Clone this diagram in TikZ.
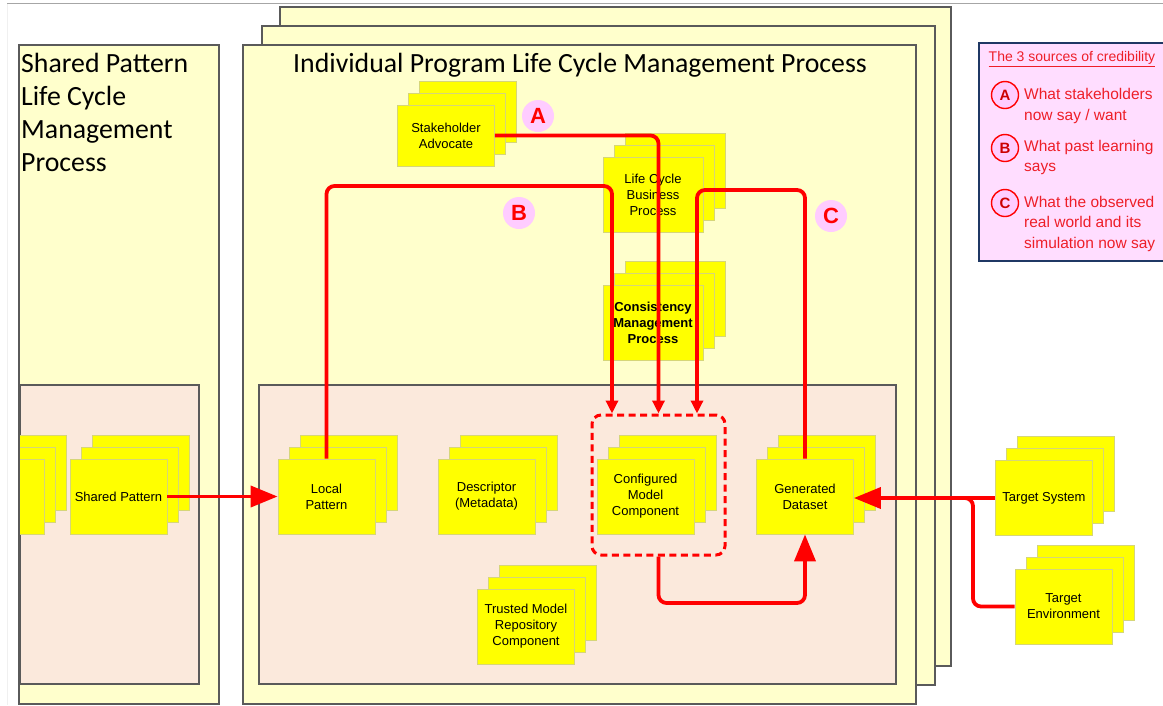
\documentclass[tikz,border=0pt]{standalone}
\usepackage{fontspec}
\setmainfont{Liberation Sans}
\newfontfamily\titlefont{Carlito}
\usetikzlibrary{
  arrows.meta,
  positioning,
  shadows
}
\definecolor{paneyellow}{RGB}{255,255,204}
\definecolor{panepink}{RGB}{251,233,220}
\definecolor{paneedge}{RGB}{90,90,90}
\definecolor{partyellow}{RGB}{255,255,0}
\definecolor{partedge}{RGB}{214,214,120}
\definecolor{flowred}{RGB}{255,0,0}
\definecolor{tagpink}{RGB}{255,204,255}
\definecolor{keypink}{RGB}{255,221,255}
\definecolor{keyedge}{RGB}{31,56,100}
\definecolor{keyred}{RGB}{238,30,40}

\begin{document}
\begin{tikzpicture}[
  x=1pt, y=-1pt,
  panebox/.style={draw=paneedge, line width=1.4pt, fill=paneyellow},
  innerpane/.style={draw=paneedge, line width=1.3pt, fill=panepink},
  partbox/.style={draw=partedge, line width=0.8pt, fill=partyellow,
    minimum width=97pt, minimum height=75pt, inner sep=2pt, align=center,
    font=\fontsize{13}{16}\selectfont,
    copy shadow={shadow xshift=22pt, shadow yshift=24pt, draw=partedge, fill=partyellow, line width=0.8pt},
    copy shadow={shadow xshift=11pt, shadow yshift=12pt, draw=partedge, fill=partyellow, line width=0.8pt}},
  flow/.style={draw=flowred, line width=3.8pt, rounded corners=8pt},
  tipin/.style={-{Triangle[length=13pt, width=12pt]}},
  tipbig/.style={-{Triangle[length=27pt, width=21pt]}},
  tag/.style={circle, fill=tagpink, minimum size=32pt, inner sep=0pt, text=flowred,
    font=\bfseries\fontsize{22}{22}\selectfont},
  keytag/.style={circle, draw=flowred, line width=1.4pt, fill=tagpink, minimum size=27pt,
    inner sep=0pt, text=red!80!black, font=\bfseries\fontsize{15}{15}\selectfont},
  keytext/.style={anchor=west, inner sep=0pt, align=left, text=keyred,
    font=\fontsize{15.5}{20.5}\selectfont},
  heading/.style={font=\titlefont\fontsize{27.8}{33}\selectfont}
]
  \useasboundingbox (0,0) rectangle (1163,705);
  \fill[white] (0,0) rectangle (1163,705);
  \draw[gray!12, line width=0.8pt] (7,3) -- (7,705);
  \draw[gray!70, line width=1pt] (7,3) -- (1163,3);

  % Panels
  \draw[panebox] (19,45) rectangle (219,704);
  \draw[innerpane] (20,385) rectangle (199,684);
  \draw[panebox] (280,7) rectangle (951,666);
  \draw[panebox] (262,26) rectangle (935,685);
  \draw[panebox] (243,45) rectangle (916,704);
  \draw[innerpane] (259,385) rectangle (896,684);

  \node[heading, anchor=north west, align=left, inner sep=0pt] (sharedtitle) at (21,53)
    {Shared Pattern\\Life Cycle\\Management\\Process};
  \node[heading, anchor=base] (maintitle) at (580,72)
    {Individual Program Life Cycle Management Process};

  % Parts
  \begin{scope}
    \clip (20,385) rectangle (199,684);
    \node[partbox] (sharedprev) at (-4.5,496.5) {};
  \end{scope}
  \node[partbox] (sharedpat) at (118.5,496.5) {Shared Pattern};
  \node[partbox] (localpat) at (326.5,496.5) {Local\\Pattern};
  \node[partbox] (descriptor) at (486.5,496.5) {Descriptor\\(Metadata)};
  \node[partbox] (cfgmodel) at (645.5,496.5) {Configured\\Model\\Component};
  \node[partbox] (gendata) at (805,496.5) {Generated\\Dataset};
  \node[partbox] (trusted) at (526,626.5) {Trusted Model\\Repository\\Component};
  \node[partbox, minimum height=61pt] (stakeholder) at (446,135.5) {Stakeholder\\Advocate};
  \node[partbox, minimum width=100pt] (lcbusiness) at (653,195) {Life Cycle\\Business\\Process};
  \node[partbox, minimum width=100pt, font=\bfseries\fontsize{13}{16}\selectfont] (consistency)
    at (653,322.5) {Consistency\\Management\\Process};
  \node[partbox] (targetsys) at (1044,498) {Target System};
  \node[partbox] (targetenv) at (1063.5,606.5) {Target\\Environment};

  \node[draw=flowred, line width=3pt, dash pattern=on 7pt off 4.5pt, rounded corners=9pt,
    minimum width=133pt, minimum height=140pt] (cfgframe) at (658.5,485) {};

  % Flows
  \coordinate (bturn) at (612,186);
  \coordinate (cturn) at (697,190);
  \coordinate (lowrun) at (730,603);
  \coordinate (junct) at (973,498);
  \coordinate (merge) at (940,498);

  \draw[flow, tipin] (stakeholder.east) -| (cfgframe.north);
  \draw[flow, tipin] (localpat.north) |- (bturn) -- (bturn |- cfgframe.north);
  \draw[flow, tipin] (gendata.north) |- (cturn) -- (cturn |- cfgframe.north);
  \draw[flow, tipbig] (sharedpat.east) -- (localpat.west);
  \draw[flow, tipbig] (targetsys.west) -- (targetsys.west -| gendata.east);
  \draw[flow] (targetenv.west) -| (junct) -- (merge);
  \draw[flow, tipbig] (cfgframe.south) |- (lowrun) -| (gendata.south);

  \node[tag] (tagA) at (538,116) {A};
  \node[tag] (tagB) at (519,213) {B};
  \node[tag] (tagC) at (831,216) {C};

  % Key
  \draw[draw=keyedge, line width=1.6pt, fill=keypink] (979,43) rectangle (1175,261);
  \node[text=keyred, font=\fontsize{14}{14}\selectfont] (keytitle) at (1072,59)
    {\underline{The 3 sources of credibility}};
  \node[keytag] (keyA) at (1005,95) {A};
  \node[keytag] (keyB) at (1005,148) {B};
  \node[keytag] (keyC) at (1005,203) {C};
  \node[keytext] (keyAtext) at (1024,106) {What stakeholders\\now say / want};
  \node[keytext] (keyBtext) at (1024,157.5) {What past learning\\says};
  \node[keytext] (keyCtext) at (1024,223.5) {What the observed\\real world and its\\simulation now say};
\end{tikzpicture}
\end{document}
